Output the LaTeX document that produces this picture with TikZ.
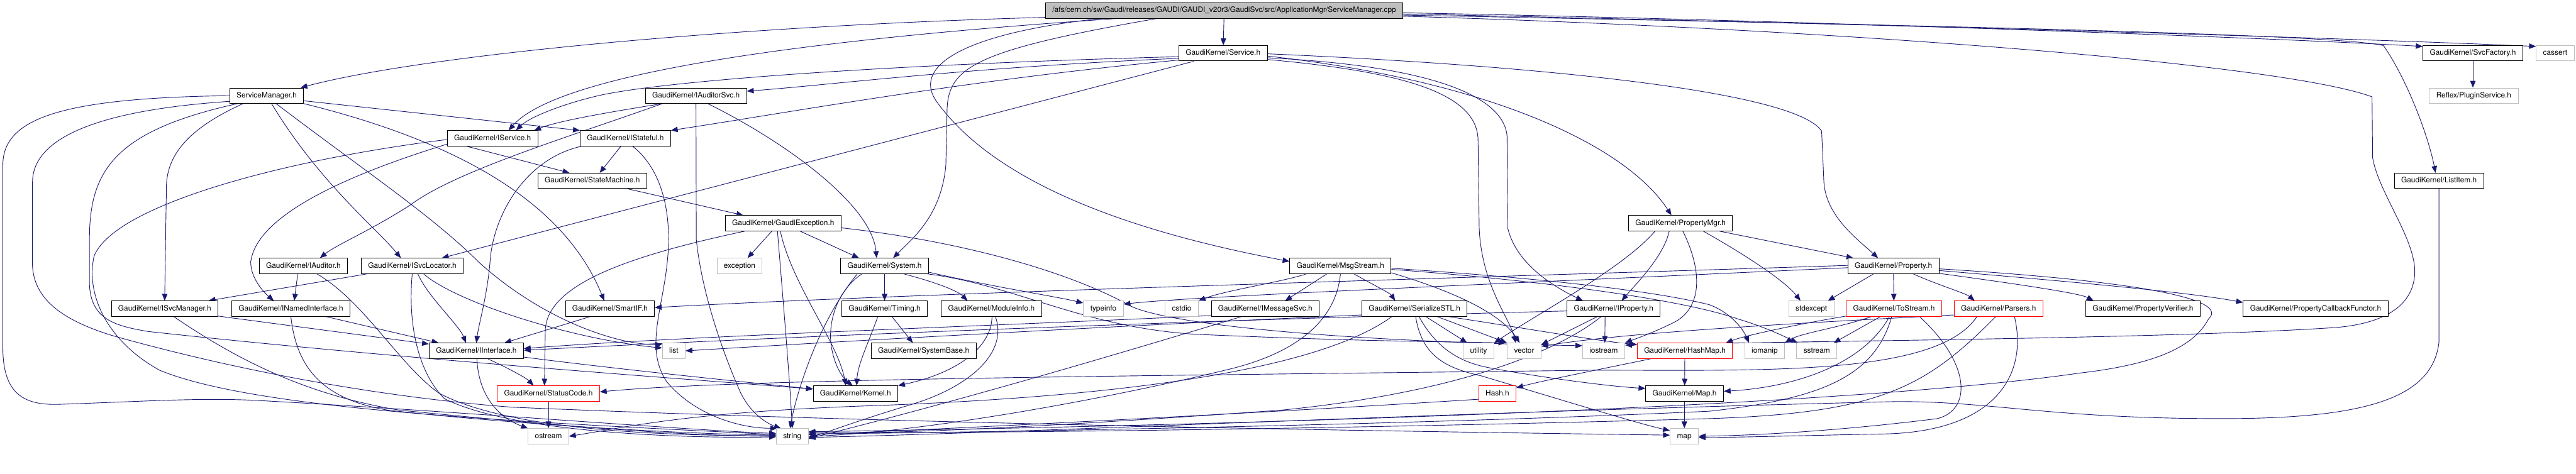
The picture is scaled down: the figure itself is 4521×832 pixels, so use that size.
\documentclass[tikz,border=0pt]{standalone}
\usepackage{fontspec}
\setmainfont{TeX Gyre Heros}
\usetikzlibrary{arrows.meta}
\definecolor{edgec}{HTML}{191970}
\definecolor{grayb}{HTML}{BFBFBF}
\pgfdeclarelayer{bg}
\pgfsetlayers{bg,main}
\begin{document}
\begin{tikzpicture}[x=1pt,y=-1pt,
  box/.style={draw=black, fill=white, line width=1pt, inner xsep=12pt, inner ysep=0pt, minimum height=27pt, text height=9.5pt, text depth=2.7pt, font={\fontsize{13.1}{15}\selectfont}},
  extbox/.style={box, draw=grayb},
  redbox/.style={box, draw=red},
  mainbox/.style={box, fill=grayb},
  e/.style={draw=edgec, line width=1pt, -{Triangle[length=12pt,width=9.5pt]}}]
\useasboundingbox (0,0) rectangle (4521,832);
\begin{pgfonlayer}{bg}
\fill[white] (0,0) rectangle (4521,832);
\end{pgfonlayer}
% nodes
\node[mainbox] (main) at (2148.5,18.5) {/afs/cern.ch/sw/Gaudi/releases/GAUDI/GAUDI\_v20r3/GaudiSvc/src/ApplicationMgr/ServiceManager.cpp};
\node[box] (service) at (2146.5,93.5) {GaudiKernel/Service.h};
\node[box] (svcfactory) at (4340,93.5) {GaudiKernel/SvcFactory.h};
\node[extbox] (cassert) at (4484.5,93.5) {cassert};
\node[box] (svcmgrh) at (468,168) {ServiceManager.h};
\node[box] (iauditorsvc) at (1221.5,168) {GaudiKernel/IAuditorSvc.h};
\node[extbox] (plugin) at (4341.5,168) {Reflex/PluginService.h};
\node[box] (iservice) at (864.5,243) {GaudiKernel/IService.h};
\node[box] (istateful) at (1097.5,243) {GaudiKernel/IStateful.h};
\node[box] (statemachine) at (1039.5,317.5) {GaudiKernel/StateMachine.h};
\node[box] (listitem) at (4280.5,317.5) {GaudiKernel/ListItem.h};
\node[box] (gaudiexc) at (1374.5,392) {GaudiKernel/GaudiException.h};
\node[box] (propertymgr) at (2949.5,392) {GaudiKernel/PropertyMgr.h};
\node[box] (iauditor) at (532.5,467) {GaudiKernel/IAuditor.h};
\node[box] (isvclocator) at (723.5,467) {GaudiKernel/ISvcLocator.h};
\node[extbox] (exception) at (1298,467) {exception};
\node[box] (system) at (1552.5,467) {GaudiKernel/System.h};
\node[box] (msgstream) at (2352.5,467) {GaudiKernel/MsgStream.h};
\node[box] (property) at (3323,467) {GaudiKernel/Property.h};
\node[box] (isvcmanager) at (289,542) {GaudiKernel/ISvcManager.h};
\node[box] (inamed) at (510.5,542) {GaudiKernel/INamedInterface.h};
\node[box] (smartif) at (1070.5,542) {GaudiKernel/SmartIF.h};
\node[box] (timing) at (1552.5,542) {GaudiKernel/Timing.h};
\node[box] (moduleinfo) at (1740,542) {GaudiKernel/ModuleInfo.h};
\node[extbox] (typeinfo) at (1936.5,542) {typeinfo};
\node[extbox] (cstdio) at (2074,542) {cstdio};
\node[box] (imessagesvc) at (2220.5,542) {GaudiKernel/IMessageSvc.h};
\node[box] (serializestl) at (2482.5,542) {GaudiKernel/SerializeSTL.h};
\node[box] (iproperty) at (2832,542) {GaudiKernel/IProperty.h};
\node[extbox] (stdexcept) at (3179,542) {stdexcept};
\node[redbox] (tostream) at (3324,542) {GaudiKernel/ToStream.h};
\node[redbox] (parsers) at (3507.5,542) {GaudiKernel/Parsers.h};
\node[box] (propverifier) at (3761,542) {GaudiKernel/PropertyVerifier.h};
\node[box] (propcallback) at (4064,542) {GaudiKernel/PropertyCallbackFunctor.h};
\node[box] (iinterface) at (836,616) {GaudiKernel/IInterface.h};
\node[extbox] (list) at (1182.5,616) {list};
\node[box] (systembase) at (1621,616) {GaudiKernel/SystemBase.h};
\node[extbox] (utility) at (2595,616) {utility};
\node[extbox] (vector) at (2675,616) {vector};
\node[extbox] (iostream) at (2814.5,616) {iostream};
\node[redbox] (hashmap) at (2957,616) {GaudiKernel/HashMap.h};
\node[extbox] (iomanip) at (3097,616) {iomanip};
\node[extbox] (sstream) at (3188.5,616) {sstream};
\node[redbox] (statuscode) at (962.5,691) {GaudiKernel/StatusCode.h};
\node[box] (kernel) at (1501.5,691) {GaudiKernel/Kernel.h};
\node[redbox] (hash) at (2628,691) {Hash.h};
\node[box] (maph) at (2956.5,691) {GaudiKernel/Map.h};
\node[extbox] (ostream) at (962.5,766) {ostream};
\node[extbox] (string) at (1390.5,766) {string};
\node[extbox] (map) at (2956,766) {map};
\begin{pgfonlayer}{bg}
% main
\draw[e] ([yshift=2pt]main.south west) .. controls (1300,45) and (750,95) .. ([xshift=-6pt]svcmgrh.north east);
\draw[e] ([xshift=127pt]main.south west) .. controls (1400,70) and (980,130) .. ([xshift=28pt]iservice.north);
\draw[e] (main) -- (service);
\draw[e] ([yshift=-4pt]main.east) .. controls (3000,32) and (3900,62) .. ([yshift=-2pt]svcfactory.north west);
\draw[e] ([yshift=-6pt]main.east) .. controls (3100,38) and (4000,62) .. ([yshift=-2pt]cassert.north west);
\draw[e] ([yshift=-8pt]main.east) .. controls (3400,45) and (4100,60) .. (4183,80) .. controls (4225,140) and (4262,240) .. ([xshift=-6pt]listitem.north);
\draw[e] ([yshift=-10pt]main.east) .. controls (3200,50) and (4000,110) .. (4163,170) -- (4164,277) .. controls (4175,340) and (4240,420) .. (4238,480) .. controls (4235,540) and (4180,568) .. (4100,575) .. controls (3800,595) and (3200,598) .. ([yshift=-4pt]iostream.north east);
\draw[e] ([xshift=196pt]main.south west) .. controls (1700,90) and (1662,120) .. (1662,200) -- (1660,290) .. controls (1652,380) and (1600,420) .. ([xshift=15pt]system.north);
\draw[e] ([xshift=97pt]main.south west) .. controls (1680,60) and (1600,120) .. (1645,180) .. controls (1740,310) and (1950,400) .. ([yshift=-6pt]msgstream.north west);
% svcfactory, listitem
\draw[e] (svcfactory.south) -- (svcfactory.south |- plugin.north);
\draw[e] (listitem.south) -- (4280.5,600) .. controls (4270,700) and (4150,735) .. (3900,735) .. controls (3600,735) and (3500,705) .. (3330,705) .. controls (2500,725) and (1800,760) .. ([yshift=-2pt]string.east);
% ServiceManager.h
\draw[e] (svcmgrh.west) .. controls (100,172) and (5,210) .. (5,290) -- (5,610) .. controls (5,690) and (40,711) .. (100,710) .. controls (250,705) and (350,698) .. (450,703) .. controls (800,722) and (1200,755) .. ([yshift=5pt]string.west);
\draw[e] ([yshift=-10pt]svcmgrh.west) .. controls (150,195) and (57,250) .. (57,320) -- (57,467) .. controls (60,520) and (100,560) .. (200,590) .. controls (450,660) and (700,700) .. (900,715) .. controls (1600,745) and (2500,758) .. ([yshift=2pt]map.west);
\draw[e] ([xshift=14pt]svcmgrh.south west) .. controls (200,230) and (157,300) .. (157,420) -- (157,500) .. controls (160,560) and (200,572) .. (260,582) .. controls (700,630) and (1200,665) .. ([yshift=-6pt]kernel.north west);
\draw[e] ([xshift=24pt]svcmgrh.south west) .. controls (320,230) and (292,280) .. (292,330) -- (isvcmanager.north);
\draw[e] ([xshift=74pt]svcmgrh.south west) .. controls (560,320) and (660,400) .. ([xshift=-20pt]isvclocator.north);
\draw[e] ([xshift=82pt]svcmgrh.south west) .. controls (640,300) and (760,380) .. (840,460) .. controls (950,560) and (1080,605) .. ([yshift=-3pt]list.north west);
\draw[e] (svcmgrh.south east) .. controls (850,260) and (1000,380) .. ([xshift=-10pt]smartif.north);
\draw[e] ([yshift=-9pt]svcmgrh.east) -- (istateful.north west);
% Service.h
\draw[e] ([yshift=-6pt]service.west) .. controls (1500,115) and (1150,145) .. (1050,168) .. controls (990,182) and (930,205) .. ([xshift=41pt]iservice.north);
\draw[e] ([yshift=-9pt]service.west) .. controls (1700,118) and (1450,150) .. ([yshift=-6pt]iauditorsvc.north east);
\draw[e] ([yshift=-12pt]service.west) .. controls (1700,140) and (1400,195) .. (istateful.north east);
\draw[e] ([xshift=27pt]service.south west) -- ([xshift=-38pt]isvclocator.north east);
\draw[e] ([yshift=-5pt]service.east) .. controls (2600,140) and (2850,250) .. ([xshift=-16pt]propertymgr.north);
\draw[e] ([yshift=-1pt]service.east) .. controls (2700,115) and (3150,160) .. (3197,230) -- (3201,320) .. controls (3205,380) and (3260,420) .. ([xshift=-27pt]property.north);
\draw[e] ([yshift=-11pt]service.east) .. controls (2450,125) and (2592,160) .. (2594,245) -- (2596,400) .. controls (2600,500) and (2650,560) .. ([xshift=-15pt]vector.north);
\draw[e] ([yshift=-8pt]service.east) .. controls (2500,115) and (2640,165) .. (2645,240) -- (2646,400) .. controls (2660,460) and (2720,500) .. ([xshift=-54pt]iproperty.north);
% IAuditorSvc.h
\draw[e] ([xshift=30pt]iauditorsvc.south west) .. controls (1080,195) and (980,212) .. ([xshift=-7pt]iservice.north east);
\draw[e] ([xshift=30pt]iauditorsvc.south west) .. controls (1000,240) and (800,300) .. (720,360) .. controls (650,405) and (590,430) .. ([xshift=29pt]iauditor.north);
\draw[e] (iauditorsvc.south) -- (1222,420) .. controls (1230,500) and (1260,600) .. (1300,690) .. controls (1320,730) and (1350,745) .. ([xshift=-20pt]string.north);
\draw[e] ([xshift=110pt]iauditorsvc.south west) .. controls (1380,250) and (1530,360) .. ([xshift=-14pt]system.north);
% IService.h
\draw[e] ([yshift=4pt]iservice.south west) .. controls (600,310) and (450,380) .. (440,460) .. controls (440,490) and (465,515) .. ([xshift=-30pt]inamed.north);
\draw[e] ([xshift=35pt]iservice.south west) -- ([xshift=-40pt]statemachine.north);
\draw[e] ([yshift=-2pt]iservice.west) .. controls (500,280) and (200,360) .. (165,450) .. controls (150,520) and (190,600) .. (280,650) .. controls (450,720) and (900,740) .. ([yshift=3pt]string.west);
% IStateful.h
\draw[e] ([xshift=-8pt]istateful.south) -- ([xshift=13pt]statemachine.north);
\draw[e] ([xshift=2pt]istateful.south west) .. controls (920,280) and (865,380) .. (860,460) .. controls (855,520) and (840,570) .. (iinterface.north);
\draw[e] ([xshift=13pt]istateful.south) .. controls (1165,300) and (1178,380) .. (1172,450) .. controls (1165,540) and (1130,610) .. (1170,670) .. controls (1220,730) and (1300,752) .. ([xshift=2pt]string.north west);
% StateMachine.h
\draw[e] ([xshift=-34pt]statemachine.south east) -- ([xshift=-70pt]gaudiexc.north);
% GaudiException.h
\draw[e] ([xshift=-68pt]gaudiexc.south) .. controls (1100,450) and (960,500) .. (957,580) -- ([xshift=-7pt]statuscode.north);
\draw[e] ([xshift=-20pt]gaudiexc.south) -- ([xshift=14pt]exception.north);
\draw[e] ([xshift=-10pt]gaudiexc.south) .. controls (1372,500) and (1385,650) .. (string.north);
\draw[e] ([xshift=-5pt]gaudiexc.south) .. controls (1390,500) and (1470,600) .. ([xshift=-17pt]kernel.north);
\draw[e] ([xshift=30pt]gaudiexc.south) -- ([xshift=-45pt]system.north);
\draw[e] ([yshift=-8pt]gaudiexc.east) .. controls (1700,425) and (1880,480) .. (1980,535) .. controls (2030,565) and (2300,598) .. ([yshift=9pt]iostream.west);
% IAuditor.h
\draw[e] ([xshift=-10pt]iauditor.south) -- ([xshift=6pt]inamed.north);
\draw[e] ([xshift=24pt]iauditor.south) .. controls (640,530) and (700,640) .. (770,690) .. controls (900,760) and (1200,765) .. ([yshift=1pt]string.west);
% ISvcLocator.h
\draw[e] ([xshift=10pt]isvclocator.south west) -- ([xshift=-17pt]isvcmanager.north east);
\draw[e] ([xshift=10pt]isvclocator.south) .. controls (750,520) and (805,570) .. ([xshift=-18pt]iinterface.north);
\draw[e] ([xshift=20pt]isvclocator.south) .. controls (800,530) and (1000,595) .. ([yshift=-9pt]list.north west);
\draw[e] (isvclocator.south) .. controls (716,560) and (730,650) .. (780,700) .. controls (900,760) and (1200,770) .. ([yshift=-1pt]string.west);
% ISvcManager.h
\draw[e] ([yshift=1pt]isvcmanager.south east) -- ([yshift=-2pt]iinterface.north west);
\draw[e] ([xshift=16pt]isvcmanager.south) .. controls (400,620) and (520,690) .. (700,720) .. controls (1000,750) and (1200,765) .. (string.west);
% INamedInterface.h
\draw[e] ([xshift=62pt]inamed.south) -- ([xshift=17pt]iinterface.north west);
\draw[e] (inamed.south) .. controls (520,640) and (560,700) .. (680,720) .. controls (900,745) and (1200,762) .. ([yshift=2pt]string.west);
% SmartIF.h
\draw[e] ([xshift=-35pt]smartif.south) -- ([xshift=-34pt]iinterface.north east);
% IInterface.h
\draw[e] ([xshift=20pt]iinterface.south) .. controls (900,650) and (925,665) .. ([xshift=-26pt]statuscode.north);
\draw[e] ([xshift=1pt]iinterface.south) .. controls (840,700) and (880,735) .. (ostream.north west);
\draw[e] ([yshift=3pt]iinterface.south east) .. controls (1100,650) and (1300,670) .. ([yshift=-6pt]kernel.north west);
% StatusCode.h
\draw[e] (statuscode) -- (ostream);
% System.h
\draw[e] (system) -- (timing);
\draw[e] ([xshift=34pt]system.south) .. controls (1640,495) and (1680,510) .. ([xshift=-42pt]moduleinfo.north);
\draw[e] ([yshift=3pt]system.south east) .. controls (1750,505) and (1850,520) .. ([yshift=-4pt]typeinfo.north west);
\draw[e] ([xshift=-2pt]system.south east) .. controls (1780,500) and (1900,575) .. (2100,587) .. controls (2400,600) and (2550,600) .. ([xshift=-3pt]vector.north west);
\draw[e] ([xshift=-40pt]system.south) .. controls (1470,510) and (1455,560) .. (1458,600) .. controls (1462,640) and (1480,665) .. ([xshift=-5pt]kernel.north);
\draw[e] ([xshift=-48pt]system.south) .. controls (1440,560) and (1400,680) .. ([xshift=-4pt]string.north);
% Timing.h
\draw[e] ([xshift=13pt]timing.south) -- ([xshift=-19pt]systembase.north);
\draw[e] ([xshift=-12pt]timing.south) .. controls (1525,600) and (1505,640) .. ([xshift=2pt]kernel.north);
% ModuleInfo.h
\draw[e] ([xshift=1pt]moduleinfo.south) .. controls (1740,610) and (1680,655) .. (kernel.north east);
\draw[e] ([xshift=7pt]moduleinfo.south) .. controls (1770,620) and (1700,680) .. (1600,710) .. controls (1500,740) and (1450,760) .. ([yshift=-2pt]string.east);
% MsgStream.h
\draw[e] ([xshift=-24pt]msgstream.south) -- ([xshift=35pt]imessagesvc.north);
\draw[e] ([xshift=24pt]msgstream.south) .. controls (2410,500) and (2440,515) .. ([xshift=-34pt]serializestl.north);
\draw[e] ([xshift=-60pt]msgstream.south) .. controls (2250,495) and (2150,510) .. (cstdio.north east);
\draw[e] (msgstream.south) .. controls (2345,560) and (2280,620) .. (2150,650) .. controls (1900,710) and (1600,760) .. (string.east);
\draw[e] ([yshift=-4pt]msgstream.east) .. controls (2700,488) and (2900,510) .. (3000,535) .. controls (3040,550) and (3060,580) .. ([xshift=8pt]iomanip.north west);
\draw[e] ([yshift=-6pt]msgstream.east) .. controls (2700,492) and (2950,525) .. (3050,560) .. controls (3100,575) and (3130,590) .. ([xshift=2pt]sstream.north west);
\draw[e] ([yshift=2pt]msgstream.south east) .. controls (2580,520) and (2640,560) .. ([xshift=-8pt]vector.north);
% IMessageSvc.h
\draw[e] ([yshift=2pt]imessagesvc.south west) .. controls (1800,570) and (1200,590) .. ([yshift=4pt]iinterface.east);
\draw[e] ([xshift=-42pt]imessagesvc.south) .. controls (2000,610) and (1700,700) .. ([yshift=-4pt]string.east);
% SerializeSTL.h
\draw[e] ([xshift=20pt]serializestl.south) -- ([xshift=-20pt]utility.north);
\draw[e] ([xshift=40pt]serializestl.south) -- (vector.north west);
\draw[e] ([xshift=60pt]serializestl.south) .. controls (2700,580) and (2800,598) .. ([yshift=-3pt]hashmap.north west);
\draw[e] ([xshift=2pt]serializestl.south) .. controls (2495,620) and (2530,645) .. (2600,660) .. controls (2750,705) and (2880,745) .. ([yshift=-4pt]map.north west);
\draw[e] ([xshift=8pt]serializestl.south) .. controls (2520,610) and (2560,635) .. (2610,645) .. controls (2700,662) and (2820,678) .. ([yshift=-5pt]maph.north west);
\draw[e] ([yshift=3pt]serializestl.south west) .. controls (2000,570) and (1500,598) .. (list.east);
\draw[e] ([xshift=-40pt]serializestl.south) .. controls (2300,660) and (1900,700) .. (1510,713) .. controls (1200,725) and (1100,750) .. (ostream.east);
% IProperty.h
\draw[e] ([xshift=-29pt]iproperty.south) -- ([yshift=-3pt]vector.north east);
\draw[e] ([xshift=-15pt]iproperty.south) -- ([xshift=2pt]iostream.north);
\draw[e] ([xshift=-22pt]iproperty.south) .. controls (2730,620) and (2550,690) .. (2250,720) .. controls (1900,745) and (1600,762) .. ([yshift=6pt]string.east);
\draw[e] ([yshift=-4pt]iproperty.west) .. controls (2000,565) and (1300,595) .. ([yshift=1pt]iinterface.east);
% HashMap.h, Map.h, Hash.h
\draw[e] ([xshift=-60pt]hashmap.south) .. controls (2800,650) and (2700,670) .. ([yshift=-4pt]hash.north east);
\draw[e] (hashmap) -- (maph);
\draw[e] (maph) -- (map);
\draw[e] ([yshift=4pt]hash.south west) .. controls (2300,720) and (1700,752) .. ([yshift=3pt]string.east);
% PropertyMgr.h
\draw[e] ([xshift=-20pt]propertymgr.south) .. controls (2920,450) and (2870,500) .. ([xshift=14pt]iproperty.north);
\draw[e] ([xshift=-23pt]propertymgr.south east) -- ([xshift=10pt]property.north west);
\draw[e] ([xshift=40pt]propertymgr.south) .. controls (3050,440) and (3130,490) .. ([xshift=-19pt]stdexcept.north);
\draw[e] ([xshift=-45pt]propertymgr.south) .. controls (2850,470) and (2700,550) .. (utility.north east);
\draw[e] ([xshift=4pt]propertymgr.south) .. controls (2990,480) and (2985,540) .. (2940,565) .. controls (2900,585) and (2870,595) .. (iostream.north east);
% Property.h
\draw[e] ([xshift=-35pt]property.south) -- ([xshift=29pt]stdexcept.north);
\draw[e] (property) -- (tostream);
\draw[e] ([xshift=35pt]property.south) .. controls (3400,500) and (3450,515) .. ([xshift=-42pt]parsers.north);
\draw[e] ([yshift=1pt]property.south east) .. controls (3550,500) and (3650,515) .. ([xshift=14pt]propverifier.north west);
\draw[e] ([yshift=-8pt]property.east) .. controls (3700,500) and (3850,515) .. ([yshift=-3pt]propcallback.north west);
\draw[e] ([yshift=1pt]property.west) .. controls (2500,490) and (1600,515) .. ([yshift=2pt]smartif.east);
\draw[e] ([yshift=-3pt]property.west) .. controls (2600,500) and (2100,520) .. ([yshift=-6pt]typeinfo.north east);
\draw[e] ([yshift=-5pt]property.east) .. controls (3700,490) and (3920,520) .. (3876,560) .. controls (3850,610) and (3780,640) .. (3650,655) .. controls (3200,720) and (2000,750) .. ([yshift=8pt]string.east);
% ToStream.h
\draw[e] ([xshift=-40pt]tostream.south) .. controls (3230,575) and (3160,585) .. (iomanip.north east);
\draw[e] ([xshift=-24pt]tostream.south) -- ([xshift=-6pt]sstream.north east);
\draw[e] ([yshift=1pt]tostream.south west) .. controls (3150,570) and (3060,590) .. ([xshift=-12pt]hashmap.north east);
\draw[e] ([xshift=-8pt]tostream.south) .. controls (3270,640) and (3150,680) .. ([yshift=4pt]maph.east);
\draw[e] ([xshift=45pt]tostream.south) .. controls (3460,640) and (3460,720) .. (3400,735) .. controls (3200,760) and (3050,765) .. (map.east);
\draw[e] ([xshift=-4pt]tostream.south) .. controls (3290,660) and (3200,700) .. (3000,722) .. controls (2500,745) and (1800,758) .. ([yshift=4pt]string.east);
% Parsers.h
\draw[e] ([xshift=-38pt]parsers.south) .. controls (3400,660) and (3100,650) .. (2800,650) .. controls (2000,660) and (1300,665) .. ([yshift=3pt]statuscode.east);
\draw[e] ([yshift=3pt]parsers.south west) .. controls (3100,570) and (2850,585) .. ([yshift=8pt]vector.east);
\draw[e] ([xshift=-5pt]parsers.south) .. controls (3380,680) and (3300,725) .. (3000,735) .. controls (2400,752) and (1800,760) .. ([yshift=6pt]string.east);
\draw[e] ([xshift=28pt]parsers.south) .. controls (3560,660) and (3500,760) .. (3300,762) .. controls (3150,765) and (3050,768) .. ([yshift=-2pt]map.east);
\end{pgfonlayer}
\end{tikzpicture}
\end{document}
